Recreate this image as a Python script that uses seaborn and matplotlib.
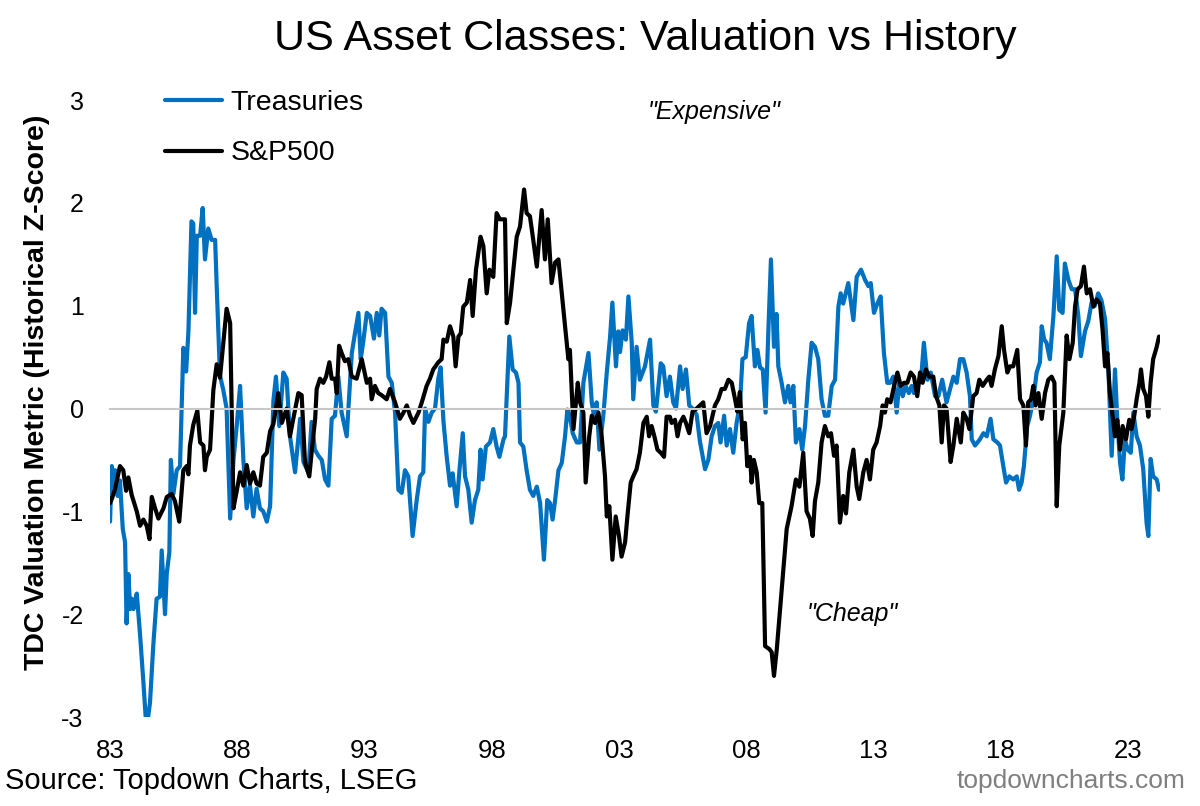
import matplotlib
matplotlib.use("Agg")
import matplotlib.pyplot as plt
import seaborn as sns

# Treasuries valuation z-score (decimal year, value)
tsy_year = [
    1983.00, 1983.07, 1983.13, 1983.20, 1983.30, 1983.39, 1983.50, 1983.59,
    1983.65, 1983.72, 1983.79, 1983.85, 1983.92, 1984.00, 1984.05, 1984.18,
    1984.31, 1984.40, 1984.47, 1984.57, 1984.70, 1984.83, 1984.96, 1985.03,
    1985.16, 1985.23, 1985.33, 1985.39, 1985.49, 1985.62, 1985.75, 1985.88,
    1985.99, 1986.08, 1986.20, 1986.27, 1986.34, 1986.41, 1986.54, 1986.64,
    1986.73, 1986.86, 1986.99, 1987.13, 1987.19, 1987.32, 1987.45, 1987.58,
    1987.72, 1987.85, 1987.98, 1988.11, 1988.24, 1988.37, 1988.50, 1988.63,
    1988.76, 1988.89, 1989.02, 1989.16, 1989.29, 1989.42, 1989.52, 1989.65,
    1989.81, 1989.94, 1990.07, 1990.27, 1990.47, 1990.60, 1990.79, 1990.92,
    1991.05, 1991.19, 1991.32, 1991.45, 1991.58, 1991.71, 1991.84, 1991.97,
    1992.10, 1992.30, 1992.50, 1992.63, 1992.76, 1992.85, 1992.95, 1993.09,
    1993.22, 1993.37, 1993.48, 1993.58, 1993.67, 1993.81, 1993.94, 1994.07,
    1994.20, 1994.33, 1994.46, 1994.59, 1994.72, 1994.89, 1995.05, 1995.18,
    1995.31, 1995.38, 1995.51, 1995.64, 1995.77, 1995.90, 1995.99, 1996.10,
    1996.23, 1996.36, 1996.46, 1996.62, 1996.73, 1996.86, 1996.95, 1997.08,
    1997.21, 1997.34, 1997.47, 1997.56, 1997.64, 1997.77, 1997.93, 1998.06,
    1998.19, 1998.30, 1998.46, 1998.52, 1998.69, 1998.82, 1998.95, 1999.05,
    1999.11, 1999.24, 1999.37, 1999.50, 1999.63, 1999.77, 1999.90, 2000.05,
    2000.18, 2000.29, 2000.39, 2000.49, 2000.62, 2000.75, 2000.88, 2000.97,
    2001.07, 2001.18, 2001.34, 2001.47, 2001.60, 2001.80, 2001.93, 2002.06,
    2002.12, 2002.23, 2002.39, 2002.52, 2002.65, 2002.74, 2002.88, 2002.97,
    2003.04, 2003.14, 2003.27, 2003.37, 2003.50, 2003.56, 2003.69, 2003.82,
    2004.02, 2004.22, 2004.35, 2004.45, 2004.64, 2004.74, 2004.87, 2005.00,
    2005.13, 2005.24, 2005.40, 2005.50, 2005.63, 2005.76, 2005.89, 2006.05,
    2006.18, 2006.38, 2006.51, 2006.64, 2006.77, 2006.90, 2006.99, 2007.13,
    2007.23, 2007.36, 2007.49, 2007.62, 2007.75, 2007.85, 2007.98, 2008.11,
    2008.21, 2008.34, 2008.44, 2008.54, 2008.65, 2008.76, 2008.87, 2008.97,
    2009.09, 2009.19, 2009.26, 2009.39, 2009.52, 2009.65, 2009.74, 2009.85,
    2009.95, 2010.09, 2010.20, 2010.31, 2010.44, 2010.57, 2010.70, 2010.83,
    2010.96, 2011.09, 2011.22, 2011.36, 2011.49, 2011.62, 2011.71, 2011.81,
    2012.01, 2012.21, 2012.34, 2012.51, 2012.67, 2012.80, 2012.89, 2013.02,
    2013.15, 2013.28, 2013.41, 2013.54, 2013.65, 2013.78, 2013.91, 2014.01,
    2014.15, 2014.26, 2014.39, 2014.50, 2014.59, 2014.76, 2014.89, 2014.98,
    2015.12, 2015.25, 2015.42, 2015.55, 2015.70, 2015.87, 2016.01, 2016.14,
    2016.27, 2016.40, 2016.53, 2016.66, 2016.79, 2016.86, 2016.99, 2017.18,
    2017.32, 2017.45, 2017.60, 2017.71, 2017.87, 2017.97, 2018.10, 2018.21,
    2018.34, 2018.49, 2018.63, 2018.72, 2018.82, 2018.91, 2019.04, 2019.15,
    2019.28, 2019.41, 2019.54, 2019.61, 2019.71, 2019.80, 2019.93, 2020.07,
    2020.20, 2020.30, 2020.43, 2020.52, 2020.66, 2020.79, 2020.92, 2021.05,
    2021.15, 2021.31, 2021.44, 2021.57, 2021.70, 2021.83, 2021.96, 2022.10,
    2022.23, 2022.36, 2022.49, 2022.58, 2022.69, 2022.78, 2022.88, 2022.99,
    2023.11, 2023.21, 2023.34, 2023.47, 2023.60, 2023.73, 2023.80, 2023.89,
    2023.99, 2024.13, 2024.22,
]
tsy_val = [
    -1.10, -0.56, -0.75, -0.60, -0.85, -0.70, -1.17, -1.30,
    -2.09, -1.61, -1.95, -1.85, -1.95, -1.85, -1.80, -2.20,
    -2.66, -3.00, -3.05, -2.86, -2.30, -1.85, -1.83, -1.38,
    -2.00, -1.60, -1.40, -0.50, -0.83, -0.60, -0.56, 0.59,
    0.36, 0.75, 1.82, 1.80, 0.93, 1.68, 1.68, 1.95,
    1.45, 1.75, 1.64, 1.64, 1.20, 0.32, 0.18, 0.00,
    -1.07, -0.50, -0.16, 0.22, -0.50, -0.97, -0.75, -1.05,
    -0.78, -0.97, -1.00, -1.10, -0.95, 0.08, 0.31, -0.17,
    0.35, 0.29, -0.27, -0.62, -0.10, -0.52, -0.62, -0.13,
    -0.40, -0.46, -0.50, -0.69, -0.75, -0.10, -0.07, 0.31,
    -0.04, -0.27, 0.54, 0.74, 0.93, 0.48, 0.65, 0.93,
    0.90, 0.68, 0.93, 0.71, 0.97, 0.93, 0.31, 0.25,
    -0.04, -0.79, -0.82, -0.60, -0.66, -1.24, -0.89, -0.66,
    -0.62, 0.00, -0.13, -0.04, 0.00, 0.29, 0.40, -0.12,
    -0.47, -0.75, -0.63, -0.95, -0.60, -0.24, -0.66, -0.79,
    -1.11, -0.89, -0.79, -0.40, -0.69, -0.37, -0.33, -0.20,
    -0.37, -0.47, -0.30, -0.27, 0.70, 0.38, 0.35, 0.25,
    -0.33, -0.37, -0.60, -0.79, -0.85, -0.76, -0.92, -1.47,
    -0.89, -0.92, -1.08, -0.89, -0.60, -0.53, -0.27, -0.01,
    -0.08, -0.24, -0.33, -0.33, 0.25, 0.54, 0.06, -0.14,
    0.06, -0.40, -0.05, 0.35, 0.70, 1.03, 0.41, 0.75,
    0.55, 0.76, 0.67, 1.09, 0.64, 0.09, 0.60, 0.28,
    0.41, 0.67, 0.03, -0.03, 0.44, 0.41, 0.12, 0.31,
    0.06, 0.00, 0.41, 0.19, 0.38, 0.03, 0.00, -0.06,
    -0.32, -0.59, -0.50, -0.27, -0.17, -0.14, -0.33, -0.07,
    -0.36, -0.20, -0.43, -0.14, 0.03, 0.48, 0.50, 0.83,
    0.90, 0.41, 0.57, 0.40, 0.38, -0.04, 0.76, 1.45,
    0.60, 0.92, 0.41, 0.25, 0.06, 0.22, 0.06, 0.22,
    -0.33, -0.20, -0.40, -0.17, 0.28, 0.64, 0.60, 0.48,
    0.09, -0.07, -0.07, 0.22, 0.28, 0.99, 1.12, 1.02,
    1.22, 0.86, 1.28, 1.35, 1.25, 1.19, 1.22, 0.93,
    1.02, 1.09, 0.54, 0.25, 0.25, 0.31, -0.04, 0.25,
    0.12, 0.22, 0.15, 0.22, 0.15, 0.25, 0.35, 0.64,
    0.28, 0.35, 0.12, 0.12, 0.28, 0.06, 0.19, 0.31,
    0.25, 0.48, 0.48, 0.35, 0.12, -0.30, -0.36, -0.30,
    -0.24, -0.27, -0.10, -0.30, -0.33, -0.36, -0.56, -0.72,
    -0.66, -0.69, -0.66, -0.79, -0.72, -0.56, -0.17, -0.07,
    0.09, 0.35, 0.45, 0.80, 0.67, 0.64, 0.48, 0.90,
    1.48, 0.96, 0.93, 1.41, 1.25, 1.16, 1.16, 0.90,
    0.51, 0.75, 0.85, 1.03, 1.00, 1.12, 1.05, 0.87,
    0.38, -0.46, 0.38, -0.11, -0.53, -0.69, -0.30, -0.40,
    -0.43, -0.04, -0.27, -0.36, -0.59, -1.11, -1.24, -0.49,
    -0.66, -0.69, -0.79,
]

# S&P500 valuation z-score (decimal year, value)
spx_year = [
    1983.00, 1983.07, 1983.20, 1983.39, 1983.52, 1983.63, 1983.72, 1983.85,
    1984.05, 1984.18, 1984.31, 1984.44, 1984.55, 1984.64, 1984.77, 1984.90,
    1985.10, 1985.23, 1985.42, 1985.55, 1985.72, 1985.88, 1986.01, 1986.08,
    1986.14, 1986.27, 1986.43, 1986.54, 1986.67, 1986.73, 1986.80, 1986.93,
    1987.06, 1987.19, 1987.32, 1987.45, 1987.58, 1987.72, 1987.85, 1987.98,
    1988.11, 1988.24, 1988.37, 1988.50, 1988.63, 1988.76, 1988.89, 1989.02,
    1989.16, 1989.29, 1989.42, 1989.61, 1989.75, 1989.94, 1990.07, 1990.20,
    1990.40, 1990.53, 1990.66, 1990.83, 1990.96, 1991.06, 1991.12, 1991.25,
    1991.38, 1991.49, 1991.62, 1991.71, 1991.84, 1991.91, 1992.00, 1992.10,
    1992.23, 1992.36, 1992.50, 1992.69, 1992.89, 1993.09, 1993.22, 1993.28,
    1993.41, 1993.54, 1993.67, 1993.87, 1994.00, 1994.20, 1994.39, 1994.53,
    1994.66, 1994.79, 1994.92, 1995.12, 1995.25, 1995.44, 1995.57, 1995.70,
    1995.90, 1996.03, 1996.10, 1996.23, 1996.36, 1996.49, 1996.58, 1996.69,
    1996.78, 1996.88, 1997.02, 1997.15, 1997.25, 1997.38, 1997.56, 1997.67,
    1997.80, 1997.91, 1998.06, 1998.19, 1998.32, 1998.52, 1998.59, 1998.72,
    1998.85, 1998.98, 1999.11, 1999.27, 1999.37, 1999.50, 1999.63, 1999.77,
    1999.96, 2000.09, 2000.20, 2000.35, 2000.49, 2000.62, 2000.75, 2000.88,
    2001.01, 2001.07, 2001.21, 2001.38, 2001.47, 2001.60, 2001.69, 2001.83,
    2001.93, 2002.06, 2002.19, 2002.32, 2002.45, 2002.52, 2002.62, 2002.74,
    2002.87, 2003.00, 2003.10, 2003.24, 2003.33, 2003.46, 2003.56, 2003.69,
    2003.82, 2003.96, 2004.09, 2004.18, 2004.28, 2004.39, 2004.51, 2004.64,
    2004.77, 2004.87, 2005.00, 2005.07, 2005.20, 2005.30, 2005.40, 2005.53,
    2005.63, 2005.76, 2005.89, 2006.05, 2006.18, 2006.31, 2006.44, 2006.58,
    2006.77, 2006.90, 2007.03, 2007.16, 2007.30, 2007.43, 2007.56, 2007.65,
    2007.75, 2007.86, 2007.95, 2008.04, 2008.15, 2008.21, 2008.30, 2008.41,
    2008.51, 2008.63, 2008.74, 2008.91, 2009.00, 2009.09, 2009.20, 2009.33,
    2009.46, 2009.59, 2009.78, 2009.95, 2010.09, 2010.24, 2010.37, 2010.50,
    2010.61, 2010.70, 2010.83, 2010.96, 2011.09, 2011.22, 2011.33, 2011.45,
    2011.55, 2011.68, 2011.81, 2011.92, 2012.05, 2012.21, 2012.34, 2012.44,
    2012.60, 2012.73, 2012.86, 2012.99, 2013.12, 2013.26, 2013.36, 2013.45,
    2013.54, 2013.67, 2013.81, 2013.94, 2014.07, 2014.20, 2014.33, 2014.46,
    2014.59, 2014.72, 2014.83, 2014.93, 2015.06, 2015.19, 2015.35, 2015.46,
    2015.59, 2015.68, 2015.77, 2015.87, 2016.03, 2016.14, 2016.27, 2016.43,
    2016.53, 2016.66, 2016.77, 2016.92, 2017.05, 2017.16, 2017.29, 2017.45,
    2017.55, 2017.64, 2017.77, 2017.91, 2018.04, 2018.13, 2018.26, 2018.36,
    2018.49, 2018.65, 2018.76, 2018.89, 2018.99, 2019.08, 2019.19, 2019.28,
    2019.37, 2019.48, 2019.61, 2019.74, 2019.87, 2020.00, 2020.11, 2020.20,
    2020.30, 2020.46, 2020.59, 2020.70, 2020.83, 2020.92, 2021.02, 2021.15,
    2021.27, 2021.38, 2021.51, 2021.64, 2021.77, 2021.90, 2022.00, 2022.10,
    2022.19, 2022.29, 2022.40, 2022.49, 2022.58, 2022.69, 2022.79, 2022.92,
    2023.05, 2023.14, 2023.24, 2023.34, 2023.45, 2023.51, 2023.60, 2023.71,
    2023.80, 2023.89, 2023.99, 2024.13, 2024.22,
]
spx_val = [
    -0.92, -0.88, -0.78, -0.56, -0.60, -0.80, -0.67, -0.84,
    -1.00, -1.14, -1.08, -1.14, -1.27, -0.86, -0.97, -1.07,
    -0.97, -0.86, -0.83, -0.90, -1.10, -0.60, -0.56, -0.64,
    -0.36, -0.16, -0.02, -0.33, -0.36, -0.60, -0.47, -0.40,
    0.18, 0.43, 0.30, 0.63, 0.97, 0.83, -0.97, -0.80,
    -0.62, -0.75, -0.55, -0.73, -0.62, -0.73, -0.75, -0.47,
    -0.43, -0.22, -0.15, 0.15, -0.14, 0.00, -0.27, -0.10,
    0.15, 0.13, -0.52, -0.66, -0.33, -0.10, 0.19, 0.29,
    0.25, 0.31, 0.45, 0.29, 0.29, 0.15, 0.61, 0.54,
    0.46, 0.48, 0.31, 0.29, 0.48, 0.25, 0.29, 0.09,
    0.22, 0.15, 0.13, 0.09, 0.19, 0.06, -0.10, -0.04,
    0.03, -0.07, -0.14, -0.04, 0.06, 0.22, 0.29, 0.38,
    0.45, 0.48, 0.67, 0.65, 0.80, 0.70, 0.41, 0.70,
    0.73, 0.99, 1.03, 1.25, 0.90, 1.35, 1.67, 1.58,
    1.12, 1.35, 1.28, 1.90, 1.84, 1.84, 0.83, 1.03,
    1.35, 1.67, 1.77, 2.13, 1.90, 1.87, 1.64, 1.38,
    1.93, 1.45, 1.84, 1.22, 1.42, 1.45, 1.12, 0.80,
    0.48, 0.57, -0.20, 0.25, 0.06, -0.04, -0.72, -0.27,
    -0.07, -0.14, -0.04, -0.27, -0.66, -1.05, -0.95, -1.47,
    -1.05, -1.24, -1.44, -1.30, -1.05, -0.72, -0.66, -0.59,
    -0.43, -0.14, -0.08, -0.27, -0.17, -0.27, -0.40, -0.43,
    -0.47, -0.08, -0.08, -0.14, -0.11, -0.27, -0.14, -0.08,
    -0.14, -0.24, -0.03, 0.00, 0.03, 0.06, -0.24, -0.17,
    0.03, 0.09, 0.19, 0.19, 0.28, 0.25, 0.09, -0.03,
    0.16, -0.30, -0.14, -0.56, -0.47, -0.72, -0.50, -0.62,
    -0.92, -0.92, -2.31, -2.34, -2.37, -2.60, -2.34, -1.95,
    -1.56, -1.17, -0.95, -0.69, -0.76, -0.43, -1.00, -1.07,
    -1.24, -0.90, -0.72, -0.33, -0.17, -0.27, -0.24, -0.46,
    -0.36, -1.11, -0.85, -1.02, -0.62, -0.40, -0.76, -0.88,
    -0.62, -0.50, -0.69, -0.40, -0.33, -0.17, 0.03, -0.04,
    0.09, 0.06, 0.22, 0.35, 0.22, 0.25, 0.25, 0.35,
    0.31, 0.12, 0.35, 0.25, 0.38, 0.31, 0.31, 0.12,
    0.03, -0.33, 0.03, 0.00, -0.52, -0.36, -0.10, -0.33,
    -0.04, -0.10, -0.20, 0.12, 0.15, 0.28, 0.22, 0.28,
    0.31, 0.22, 0.38, 0.51, 0.80, 0.57, 0.35, 0.41,
    0.41, 0.57, 0.09, 0.03, -0.36, 0.06, 0.09, 0.22,
    0.03, 0.15, -0.10, 0.15, 0.28, 0.31, 0.25, -0.95,
    -0.36, -0.04, 0.71, 0.48, 0.64, 0.99, 1.16, 1.19,
    1.38, 1.12, 1.16, 0.99, 1.06, 1.02, 0.77, 0.41,
    0.54, 0.15, -0.08, -0.27, -0.11, -0.40, -0.17, -0.30,
    -0.11, -0.20, -0.08, 0.09, 0.25, 0.38, 0.19, 0.12,
    -0.08, 0.25, 0.48, 0.60, 0.70,
]

tick_years = [1983, 1988, 1993, 1998, 2003, 2008, 2013, 2018, 2023]
tick_labels = ["83", "88", "93", "98", "03", "08", "13", "18", "23"]
y_ticks = [-3, -2, -1, 0, 1, 2, 3]

sns.set_style("white")
plt.rcParams["font.family"] = ["Liberation Sans", "DejaVu Sans"]
plt.rcParams["text.color"] = "black"
plt.rcParams["xtick.color"] = "black"
plt.rcParams["ytick.color"] = "black"

fig = plt.figure(figsize=(12, 8.06), dpi=100)
ax = fig.add_axes([0.0917, 0.1104, 0.875, 0.7655])

sns.lineplot(x=tsy_year, y=tsy_val, ax=ax, color="#0070C0", lw=3,
             label="Treasuries", estimator=None, sort=False)
sns.lineplot(x=spx_year, y=spx_val, ax=ax, color="black", lw=3,
             label="S&P500", estimator=None, sort=False)

ax.set_xlim(1983.0, 2024.26)
ax.set_ylim(-3, 3)
ax.set_xlabel("")
ax.set_ylabel("")

# zero line doubles as the x axis, labels sit at the bottom
for s in ["left", "top", "right"]:
    ax.spines[s].set_visible(False)
ax.spines["bottom"].set_position(("data", 0))
ax.spines["bottom"].set_color("#c8c8c8")
ax.spines["bottom"].set_linewidth(1.5)
ax.set_xticks(tick_years)
ax.tick_params(axis="x", direction="out", length=6, width=1.5,
               color="#c8c8c8", labelbottom=False)
ax.set_yticks(y_ticks)
ax.set_yticklabels([str(v) for v in y_ticks])
ax.tick_params(axis="y", length=0, pad=19, labelsize=18)

sec = ax.secondary_xaxis(-0.036)
sec.set_xticks(tick_years, labels=tick_labels)
sec.tick_params(length=0, pad=0, labelsize=18.5)
sec.spines["bottom"].set_visible(False)

ax.legend(loc="upper left", bbox_to_anchor=(0.1375, 0.888),
          bbox_transform=fig.transFigure, frameon=False, fontsize=20.5,
          handlelength=2.0, handletextpad=0.3, labelspacing=0.85,
          borderpad=0, borderaxespad=0)

ax.text(2006.73, 2.88, '"Expensive"', style="italic", ha="center",
        va="center", fontsize=18)
ax.text(2012.15, -2.0, '"Cheap"', style="italic", ha="center",
        va="center", fontsize=18)

fig.text(0.5375, 0.951, "US Asset Classes: Valuation vs History",
         fontsize=31, ha="center", va="center")
fig.text(0.031, 0.5136, "TDC Valuation Metric (Historical Z-Score)",
         rotation=90, fontweight="bold", fontsize=20.5, ha="center",
         va="center")
fig.text(0.004, 0.031, "Source: Topdown Charts, LSEG", fontsize=21,
         va="center")
fig.text(0.988, 0.031, "topdowncharts.com", color="#7f7f7f", fontsize=19,
         ha="right", va="center")

fig.savefig("out.png", dpi=100)
